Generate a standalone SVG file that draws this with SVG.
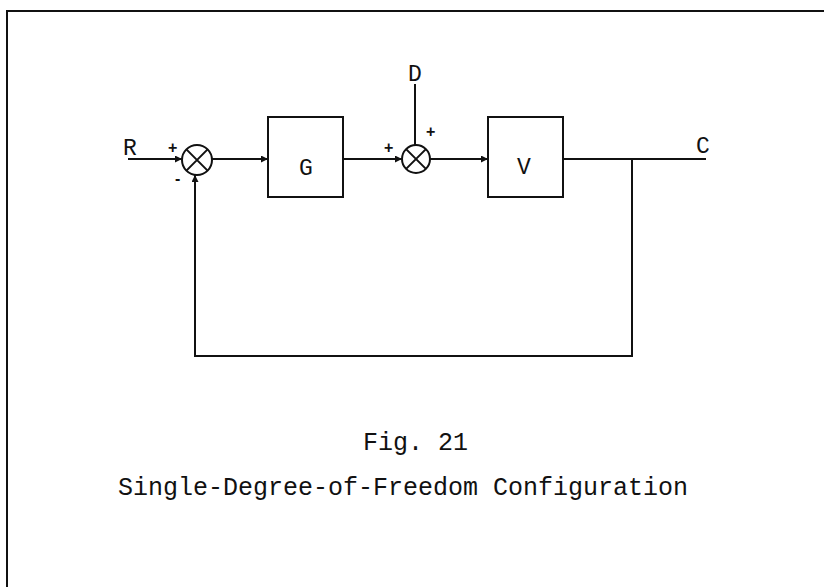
<svg xmlns="http://www.w3.org/2000/svg" width="824" height="587" viewBox="0 0 824 587">
<defs>
<style>
.ln{fill:none;stroke:#111;stroke-width:2}
.bx{fill:#fff;stroke:#111;stroke-width:2}
.t{font-family:"Liberation Mono","DejaVu Sans Mono",monospace;fill:#111}
.lab{font-size:23px}
.sg{font-size:16px;font-family:"Liberation Sans",Arial,sans-serif;fill:#111;font-weight:bold}
.cap{font-size:25px}
</style>
<marker id="ah" viewBox="0 0 10 10" refX="10" refY="5" markerWidth="9" markerHeight="7" markerUnits="userSpaceOnUse" orient="auto">
<path d="M0,0 L10,5 L0,10 Z" fill="#111"/>
</marker>
</defs>
<rect width="824" height="587" fill="#fff"/>
<g id="frame">
<path class="ln" d="M7,587 L7,11 L824,11" stroke-width="2.5"/>
</g>
<g id="connectors">
<path class="ln" d="M128,159 L182,159" marker-end="url(#ah)"/>
<path class="ln" d="M212,159 L268,159" marker-end="url(#ah)"/>
<path class="ln" d="M343,159 L402,159" marker-end="url(#ah)"/>
<path class="ln" d="M415,84 L415,145"/>
<path class="ln" d="M430,159 L488,159" marker-end="url(#ah)"/>
<path class="ln" d="M563,159 L706,159"/>
<path class="ln" d="M632,159 L632,356 L195,356 L195,175" marker-end="url(#ah)"/>
</g>
<g id="R"><text class="t lab" x="123" y="155">R</text></g>
<g id="sum1">
<circle class="bx" cx="197" cy="160" r="15"/>
<path class="ln" d="M186.4,149.4 L207.6,170.6 M207.6,149.4 L186.4,170.6"/>
<text class="sg" x="168" y="153">+</text>
<text class="sg" x="175" y="184" font-size="20">-</text>
</g>
<g id="G">
<rect class="bx" x="268" y="117" width="75" height="80"/>
<text class="t lab" x="306" y="175" text-anchor="middle">G</text>
</g>
<g id="D"><text class="t lab" x="415" y="81" text-anchor="middle">D</text></g>
<g id="sum2">
<circle class="bx" cx="416" cy="159" r="14"/>
<path class="ln" d="M406.1,149.1 L425.9,168.9 M425.9,149.1 L406.1,168.9"/>
<text class="sg" x="384" y="153">+</text>
<text class="sg" x="426" y="137">+</text>
</g>
<g id="V">
<rect class="bx" x="488" y="117" width="75" height="80"/>
<text class="t lab" x="524" y="174" text-anchor="middle">V</text>
</g>
<g id="C"><text class="t lab" x="703" y="153" text-anchor="middle">C</text></g>
<g id="caption">
<text class="t cap" x="363" y="450">Fig. 21</text>
<text class="t cap" x="118" y="495" textLength="570">Single-Degree-of-Freedom Configuration</text>
</g>
</svg>
